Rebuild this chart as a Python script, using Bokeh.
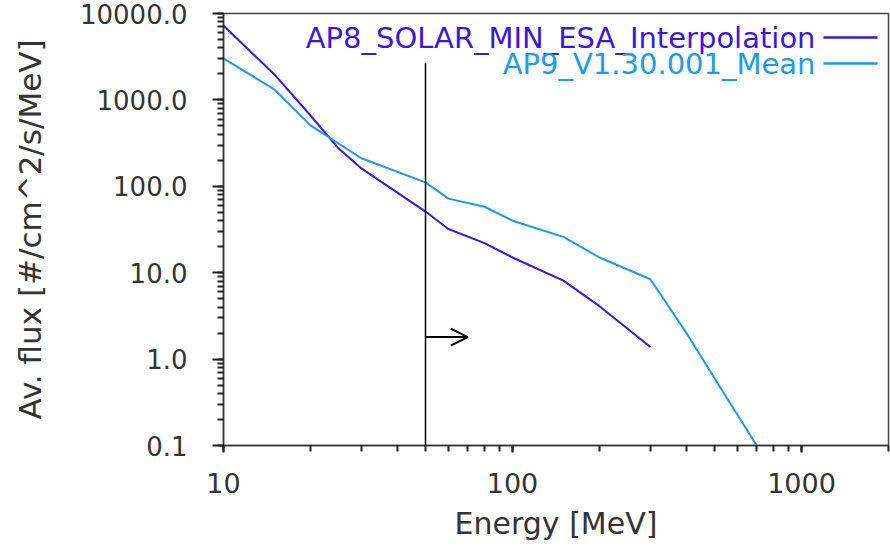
from bokeh.plotting import figure
from bokeh.models import (Label, Arrow, OpenHead, CustomJSTickFormatter,
                          LogTicker)
from bokeh.embed import file_html
from bokeh.resources import INLINE

# energies [MeV] and average flux [#/cm^2/s/MeV]
AP8_NAME = "AP8_SOLAR_MIN_ESA_Interpolation"
AP8_ENERGY = [10, 15, 20, 25, 30, 50, 60, 80, 100, 150, 200, 300]
AP8_FLUX = [7260, 1970, 660, 275, 161, 51, 32, 22, 15, 8.1, 4.1, 1.38]

AP9_NAME = "AP9_V1.30.001_Mean"
AP9_ENERGY = [10, 15, 20, 30, 50, 60, 80, 100, 150, 200, 300, 400, 500, 700]
AP9_FLUX = [3020, 1320, 507, 211, 111, 72, 58, 40, 26, 15, 8.4, 2.0, 0.6, 0.1]

# threshold marker
CUT_ENERGY = 50
CUT_TOP = 2700
ARROW_END = 70
ARROW_FLUX = 1.8

AP8_COLOR = "#3a16e0"
AP9_COLOR = "#1a9cf0"
FONT = "DejaVu Sans"
TXT = "#333333"

p = figure(width=890, height=546, x_axis_type="log", y_axis_type="log",
           x_range=(10, 2000), y_range=(0.1, 10000),
           output_backend="svg", toolbar_location=None,
           min_border_left=223, min_border_right=2,
           min_border_top=13, min_border_bottom=101)

p.xgrid.visible = False
p.ygrid.visible = False
p.outline_line_color = "#444444"
p.outline_line_width = 1.5

p.line(AP8_ENERGY, AP8_FLUX, line_color=AP8_COLOR, line_width=2)
p.line(AP9_ENERGY, AP9_FLUX, line_color=AP9_COLOR, line_width=2)

p.segment(x0=[CUT_ENERGY], y0=[p.y_range.start], x1=[CUT_ENERGY], y1=[CUT_TOP],
          line_color="black", line_width=1.5)
p.add_layout(Arrow(end=OpenHead(size=17, line_width=2, line_color="black"),
                   x_start=CUT_ENERGY, y_start=ARROW_FLUX,
                   x_end=ARROW_END, y_end=ARROW_FLUX,
                   line_color="black", line_width=2))

# legend: text right-aligned, line sample on its right
for name, color, ys in [(AP8_NAME, AP8_COLOR, 408), (AP9_NAME, AP9_COLOR, 382)]:
    p.add_layout(Label(x=592, y=ys, x_units="screen", y_units="screen",
                       text=name, text_align="right", text_baseline="alphabetic",
                       text_font=FONT, text_font_size="29px", text_color=color))
    p.add_layout(Arrow(end=None, x_start=600, y_start=ys, x_end=654, y_end=ys,
                       start_units="screen", end_units="screen",
                       line_color=color, line_width=2.5))

for ax in (p.xaxis[0], p.yaxis[0]):
    ax.axis_line_color = "#333333"
    ax.axis_line_width = 1.5
    ax.major_tick_line_color = "#222222"
    ax.major_tick_line_width = 2
    ax.minor_tick_line_color = "#222222"
    ax.minor_tick_line_width = 2
    ax.major_label_text_font = FONT
    ax.major_label_text_color = TXT
    ax.axis_label_text_font = FONT
    ax.axis_label_text_color = TXT
    ax.axis_label_text_font_style = "normal"

p.xaxis.axis_label = "Energy [MeV]"
p.xaxis.ticker = LogTicker(desired_num_ticks=3, num_minor_ticks=10)
p.xaxis.formatter = CustomJSTickFormatter(code="return tick.toFixed(0);")
p.xaxis.major_tick_in = 0
p.xaxis.major_tick_out = 7
p.xaxis.minor_tick_in = 0
p.xaxis.minor_tick_out = 6
p.xaxis.major_label_standoff = 20
p.xaxis.major_label_text_font_size = "27px"
p.xaxis.axis_label_text_font_size = "30px"
p.xaxis.axis_label_standoff = 10

p.yaxis.axis_label = "Av. flux [#/cm^2/s/MeV]"
p.yaxis.ticker = LogTicker(desired_num_ticks=7, num_minor_ticks=10)
p.yaxis.formatter = CustomJSTickFormatter(code="return tick.toFixed(1);")
p.yaxis.major_tick_in = 0
p.yaxis.major_tick_out = 11
p.yaxis.minor_tick_in = 0
p.yaxis.minor_tick_out = 6
p.yaxis.major_label_standoff = 25
p.yaxis.major_label_text_font_size = "26px"
p.yaxis.axis_label_text_font_size = "31px"
p.yaxis.axis_label_standoff = 29

open("out.html", "w").write(file_html(p, INLINE))
